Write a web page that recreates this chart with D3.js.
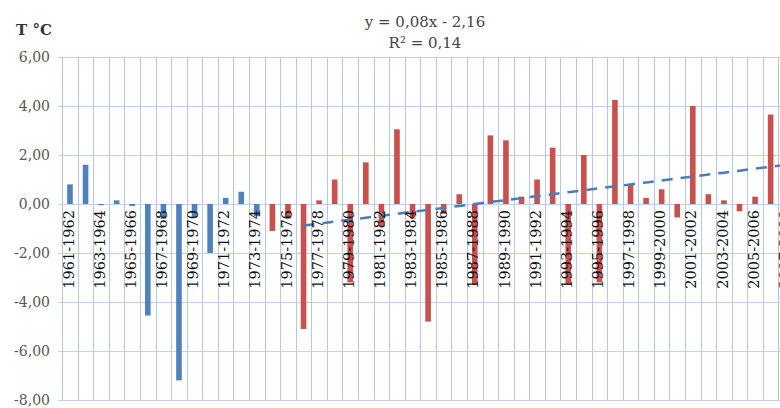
<!DOCTYPE html>
<html>
<head>
<meta charset="utf-8">
<script src="https://cdn.jsdelivr.net/npm/d3@7"></script>
<style>
  html, body { margin: 0; padding: 0; background: #fff; }
  svg { display: block; }
</style>
</head>
<body>
<svg id="chart" width="780" height="408"></svg>
<script>
// ---------- data ----------
const seasons = [
  "1961-1962","1962-1963","1963-1964","1964-1965","1965-1966","1966-1967","1967-1968",
  "1968-1969","1969-1970","1970-1971","1971-1972","1972-1973","1973-1974","1974-1975",
  "1975-1976","1976-1977","1977-1978","1978-1979","1979-1980","1980-1981","1981-1982",
  "1982-1983","1983-1984","1984-1985","1985-1986","1986-1987","1987-1988","1988-1989",
  "1989-1990","1990-1991","1991-1992","1992-1993","1993-1994","1994-1995","1995-1996",
  "1996-1997","1997-1998","1998-1999","1999-2000","2000-2001","2001-2002","2002-2003",
  "2003-2004","2004-2005","2005-2006","2006-2007","2007-2008"
];
// early period (blue) 1961-1962 .. 1973-1974
const earlyValues = [0.8, 1.6, -0.05, 0.15, -0.08, -4.55, -0.6, -7.2, -0.55, -2.0, 0.25, 0.5, -0.5];
// later period (red) 1974-1975 .. 2007-2008
const lateValues = [-1.1, -0.6, -5.1, 0.15, 1.0, -3.2, 1.7, -0.9, 3.05, -0.6, -4.8, -0.4, 0.4,
  -3.3, 2.8, 2.6, 0.3, 1.0, 2.3, -3.3, 2.0, -3.2, 4.25, 0.8, 0.25, 0.6, -0.55, 4.0, 0.4,
  0.15, -0.3, 0.3, 3.65, -1.0];
const yTicks = [6, 4, 2, 0, -2, -4, -6, -8];
const trendSlope = 0.08, trendIntercept = -2.16, trendStartIndex = 15;
const equationText = "y = 0,08x - 2,16";
const r2Text = "R² = 0,14";
const yTitle = "T °C";

(function draw() {
  const svg = d3.select("#chart");
  const plotLeft = 62.2, plotTop = 57, plotBottom = 400;
  const bandW = 15.57;
  const plotRight = plotLeft + seasons.length * bandW;

  const x = d3.scaleBand().domain(seasons).range([plotLeft, plotRight]).padding(0);
  const y = d3.scaleLinear().domain([-8, 6]).range([plotBottom, plotTop]);

  const data = seasons.map((s, i) => ({
    season: s,
    value: i < earlyValues.length ? earlyValues[i] : lateValues[i - earlyValues.length],
    early: i < earlyValues.length
  }));

  svg.append("rect").attr("width", 780).attr("height", 408).attr("fill", "#fff");

  // horizontal gridlines
  svg.append("g").selectAll("line").data(yTicks).join("line")
    .attr("x1", plotLeft - 4).attr("x2", plotRight)
    .attr("y1", d => Math.round(y(d)) + 0.5).attr("y2", d => Math.round(y(d)) + 0.5)
    .attr("stroke", "#c3d0e6").attr("stroke-width", 1);

  // vertical gridlines at category boundaries
  const bounds = seasons.map(s => x(s)).concat([plotRight]);
  svg.append("g").selectAll("line").data(bounds).join("line")
    .attr("x1", d => Math.round(d) + 0.5).attr("x2", d => Math.round(d) + 0.5)
    .attr("y1", plotTop).attr("y2", plotBottom)
    .attr("stroke", "#b7c7e3").attr("stroke-width", 1);

  // bars
  const barW = x.bandwidth() * 0.36;
  svg.append("g").selectAll("rect").data(data).join("rect")
    .attr("x", d => x(d.season) + (x.bandwidth() - barW) / 2)
    .attr("width", barW)
    .attr("y", d => y(Math.max(0, d.value)))
    .attr("height", d => Math.abs(y(d.value) - y(0)))
    .attr("fill", d => d.early ? "#4f81bd" : "#c9504c");

  // trend line
  const trendData = data.slice(trendStartIndex).map((d, k) => ({
    season: d.season, v: trendSlope * (trendStartIndex + k + 1) + trendIntercept
  }));
  svg.append("path").datum(trendData)
    .attr("d", d3.line().x(d => x(d.season) + x.bandwidth() / 2).y(d => y(d.v)))
    .attr("fill", "none").attr("stroke", "#4a7ebb").attr("stroke-width", 2.5)
    .attr("stroke-dasharray", "11,8");

  // category labels (every other)
  svg.append("g").selectAll("text").data(data.filter((d, i) => i % 2 === 0)).join("text")
    .attr("transform", d => `translate(${x(d.season) + x.bandwidth() / 2 - 1.5},${y(0) + 6}) rotate(-90)`)
    .attr("text-anchor", "end").attr("dy", "0.35em")
    .attr("font-family", "DejaVu Serif").attr("font-size", 14.5).attr("fill", "#111")
    .text(d => d.season);

  // y tick labels
  const fmt = v => d3.format(".2f")(v).replace(".", ",").replace("\u2212", "-");
  svg.append("g").selectAll("text").data(yTicks).join("text")
    .attr("x", 50).attr("y", d => y(d)).attr("dy", "0.35em")
    .attr("text-anchor", "end")
    .attr("font-family", "DejaVu Serif").attr("font-size", 14).attr("fill", "#555")
    .text(d => fmt(d));

  // axis title
  svg.append("text").attr("x", 16).attr("y", 35)
    .attr("font-family", "DejaVu Serif").attr("font-weight", "bold")
    .attr("font-size", 15).attr("fill", "#333").text(yTitle);

  // equation
  svg.append("text").attr("x", 425).attr("y", 27).attr("text-anchor", "middle")
    .attr("font-family", "DejaVu Serif").attr("font-size", 15).attr("fill", "#444")
    .text(equationText);
  svg.append("text").attr("x", 425).attr("y", 48).attr("text-anchor", "middle")
    .attr("font-family", "DejaVu Serif").attr("font-size", 15).attr("fill", "#444")
    .text(r2Text);
})();
</script>
</body>
</html>
